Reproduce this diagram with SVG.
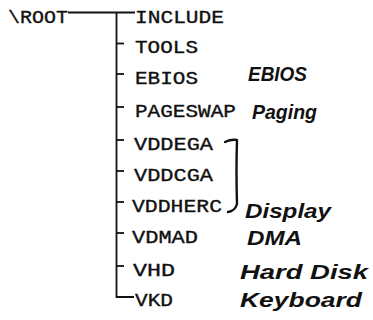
<svg xmlns="http://www.w3.org/2000/svg" width="373" height="320" viewBox="0 0 373 320">
  <style>
    .dir { font-family: "Liberation Mono", "Courier New", monospace; font-size: 18px; fill: #111; stroke: #111; stroke-width: 0.35; }
    .note { font-family: "Liberation Sans", Arial, sans-serif; font-style: italic; font-weight: bold; font-size: 20px; fill: #111; }
    .tree { stroke: #111; stroke-width: 1.8; fill: none; }
    .pen { stroke: #111; stroke-width: 2.4; fill: none; stroke-linecap: round; stroke-linejoin: round; }
  </style>
  <rect width="373" height="320" fill="#ffffff"/>

  <!-- directory tree connectors -->
  <g id="connectors" class="tree">
    <path d="M68 12.5 H135"/>
    <path d="M116.5 12.5 V297 H134"/>
    <path d="M116.5 43.5 H124"/>
    <path d="M116.5 74 H124"/>
    <path d="M116.5 107 H124"/>
    <path d="M116.5 140 H124"/>
    <path d="M116.5 171 H124"/>
    <path d="M116.5 202 H124"/>
    <path d="M116.5 233 H124"/>
    <path d="M116.5 266 H124"/>
  </g>

  <g id="root"><text class="dir" x="8" y="23" textLength="60" lengthAdjust="spacingAndGlyphs">\ROOT</text></g>
  <g id="include"><text class="dir" x="135" y="23" textLength="89" lengthAdjust="spacingAndGlyphs">INCLUDE</text></g>
  <g id="tools"><text class="dir" x="135" y="53" textLength="63" lengthAdjust="spacingAndGlyphs">TOOLS</text></g>
  <g id="ebios"><text class="dir" x="135" y="83.5" textLength="63" lengthAdjust="spacingAndGlyphs">EBIOS</text></g>
  <g id="pageswap"><text class="dir" x="135" y="117" textLength="101" lengthAdjust="spacingAndGlyphs">PAGESWAP</text></g>
  <g id="vddega"><text class="dir" x="134" y="150" textLength="79" lengthAdjust="spacingAndGlyphs">VDDEGA</text></g>
  <g id="vddcga"><text class="dir" x="134" y="181" textLength="79" lengthAdjust="spacingAndGlyphs">VDDCGA</text></g>
  <g id="vddherc"><text class="dir" x="132" y="211.5" textLength="90" lengthAdjust="spacingAndGlyphs">VDDHERC</text></g>
  <g id="vdmad"><text class="dir" x="132" y="243" textLength="66" lengthAdjust="spacingAndGlyphs">VDMAD</text></g>
  <g id="vhd"><text class="dir" x="133" y="275.5" textLength="42" lengthAdjust="spacingAndGlyphs">VHD</text></g>
  <g id="vkd"><text class="dir" x="135" y="306" textLength="38" lengthAdjust="spacingAndGlyphs">VKD</text></g>

  <!-- handwritten annotations -->
  <g id="note-ebios"><text class="note" x="248" y="81" textLength="59" lengthAdjust="spacingAndGlyphs">EBIOS</text></g>
  <g id="note-paging"><text class="note" x="252" y="119" textLength="65" lengthAdjust="spacingAndGlyphs">Paging</text></g>
  <g id="note-display">
    <path class="pen" d="M225 142 Q231 139 237 140 Q236 170 237 204 Q235 211 228 212"/>
    <text class="note" x="245" y="218" textLength="86" lengthAdjust="spacingAndGlyphs">Display</text>
  </g>
  <g id="note-dma"><text class="note" x="247" y="245" textLength="55" lengthAdjust="spacingAndGlyphs">DMA</text></g>
  <g id="note-harddisk"><text class="note" x="240" y="279" textLength="128" lengthAdjust="spacingAndGlyphs">Hard Disk</text></g>
  <g id="note-keyboard"><text class="note" x="240" y="307" textLength="122" lengthAdjust="spacingAndGlyphs">Keyboard</text></g>
</svg>
